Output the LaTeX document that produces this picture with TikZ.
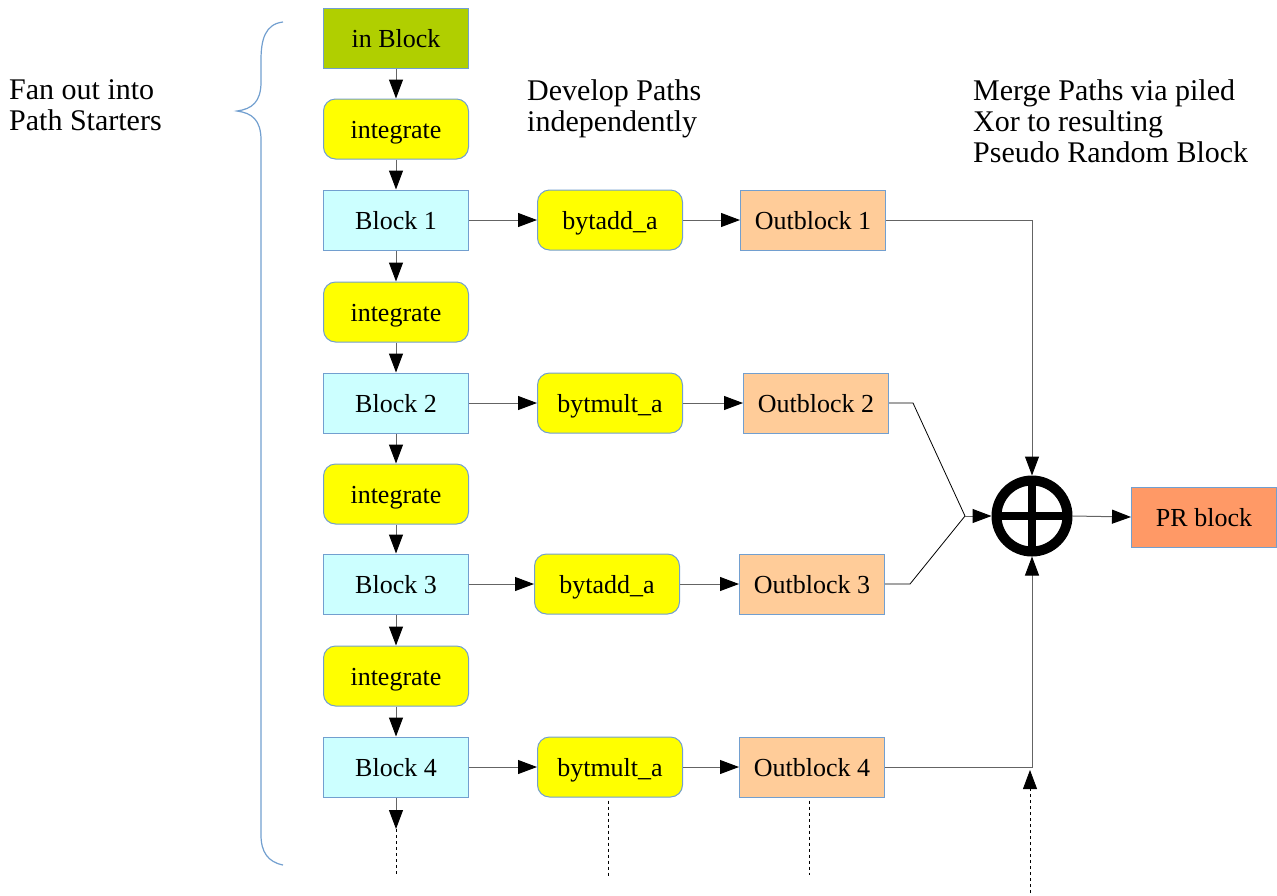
\documentclass[tikz,border=0pt]{standalone}
\usepackage{fontspec}
\setmainfont{Liberation Serif}
\usetikzlibrary{arrows.meta}
\definecolor{inblk}{RGB}{176,207,0}
\definecolor{intg}{RGB}{255,255,0}
\definecolor{blk}{RGB}{204,255,255}
\definecolor{outblk}{RGB}{255,204,153}
\definecolor{prblk}{RGB}{255,153,102}
\definecolor{edge}{RGB}{114,159,207}
\definecolor{wire}{RGB}{100,100,100}
\tikzset{
  box/.style={draw=edge, line width=1pt, minimum width=145pt, minimum height=60pt,
    inner sep=0pt, text height=21pt, text depth=3pt, font=\fontsize{26}{29}\selectfont},
  rbox/.style={box, rounded corners=12pt},
  tip/.style={-{Triangle[length=19pt,width=14pt,color=black]}},
  link/.style={draw=wire, line width=1pt, tip},
  plainlink/.style={draw=black, line width=0.8pt},
  dots/.style={draw=black, line width=0.8pt, dash pattern=on 3pt off 3pt},
  heading/.style={anchor=north west, align=left, inner sep=0pt,
    font=\fontsize{30}{31}\selectfont},
  brace/.style={draw=edge, line width=1.2pt}
}
\begin{document}
\begin{tikzpicture}[x=1pt, y=-1pt]
\useasboundingbox (0,0) rectangle (1277,895);

% headings
\node[heading] (h1) at (9,79) {Fan out into\\Path Starters};
\node[heading] (h2) at (527,79) {Develop Paths\\independently};
\node[heading] (h3) at (973,79) {Merge Paths via piled\\Xor to resulting\\Pseudo Random Block};

% brace grouping the fan-out column
\draw[brace] (283,22) .. controls (265,24) and (261,40) .. (261,60)
  -- (261,82) .. controls (261,102) and (252,109) .. (237,111)
  .. controls (252,113) and (261,120) .. (261,140)
  -- (261,835) .. controls (261,852) and (268,862) .. (283,865);

% fan-out column
\node[box, fill=inblk] (in) at (396,38) {in Block};
\node[rbox, fill=intg] (i1) at (396,129) {integrate};
\node[box, fill=blk] (b1) at (396,220) {Block 1};
\node[rbox, fill=intg] (i2) at (396,312) {integrate};
\node[box, fill=blk] (b2) at (396,403) {Block 2};
\node[rbox, fill=intg] (i3) at (396,494) {integrate};
\node[box, fill=blk] (b3) at (396,584) {Block 3};
\node[rbox, fill=intg] (i4) at (396,676) {integrate};
\node[box, fill=blk] (b4) at (396,767) {Block 4};
\coordinate (b4next) at (396,829);
\coordinate (b4end) at (393,875);

% path development
\node[rbox, fill=intg] (p1) at (610,220) {bytadd\_a};
\node[rbox, fill=intg] (p2) at (610,403) {bytmult\_a};
\node[rbox, fill=intg] (p3) at (607,584) {bytadd\_a};
\node[rbox, fill=intg] (p4) at (610,767) {bytmult\_a};
\coordinate (p4end) at (608,877);

\node[box, fill=outblk] (o1) at (813,220) {Outblock 1};
\node[box, fill=outblk] (o2) at (816,403) {Outblock 2};
\node[box, fill=outblk] (o3) at (812,584) {Outblock 3};
\node[box, fill=outblk] (o4) at (812,767) {Outblock 4};
\coordinate (o4end) at (809,875);

% xor merge
\node[circle, draw=black, line width=10pt, minimum size=71pt, inner sep=0pt] (xor) at (1032,516) {};
\draw[line width=8pt] (xor.center) ++(-36,0) -- ++(72,0);
\draw[line width=8pt] (xor.center) ++(0,-36) -- ++(0,72);
\node[box, fill=prblk] (pr) at (1204,517) {PR block};
\coordinate (merge) at (965,516);
\coordinate (feed) at (1030,893);

% vertical chain
\draw[link] (in) -- (i1);
\draw[link] (i1) -- (b1);
\draw[link] (b1) -- (i2);
\draw[link] (i2) -- (b2);
\draw[link] (b2) -- (i3);
\draw[link] (i3) -- (b3);
\draw[link] (b3) -- (i4);
\draw[link] (i4) -- (b4);
\draw[link] (b4) -- (b4next);
\draw[dots] (b4next) -- (b4next |- b4end);

% horizontal paths
\draw[link] (b1) -- (p1);
\draw[link] (b2) -- (p2);
\draw[link] (b3) -- (p3);
\draw[link] (b4) -- (p4);
\draw[link] (p1) -- (o1);
\draw[link] (p2) -- (o2);
\draw[link] (p3) -- (o3);
\draw[link] (p4) -- (o4);
\draw[dots] (p4.south) ++(-2,3) -- (p4end);
\draw[dots] (o4.south) ++(-3,3) -- (o4end);

% merging into the xor
\draw[link] (o1.east) -- (xor.north |- o1.east) -- (xor.north);
\draw[link] (o4.east) -- (xor.south |- o4.east) -- (xor.south);
\draw[plainlink] (o2.east) -- ++(24,0) -- (merge);
\draw[plainlink] (o3.east) -- ++(25,0) -- (merge);
\draw[link] (merge) -- (xor.west);
\draw[link] (xor.east) -- (pr.west);
\draw[dots, tip] (feed) -- (1030,770);
\end{tikzpicture}
\end{document}
